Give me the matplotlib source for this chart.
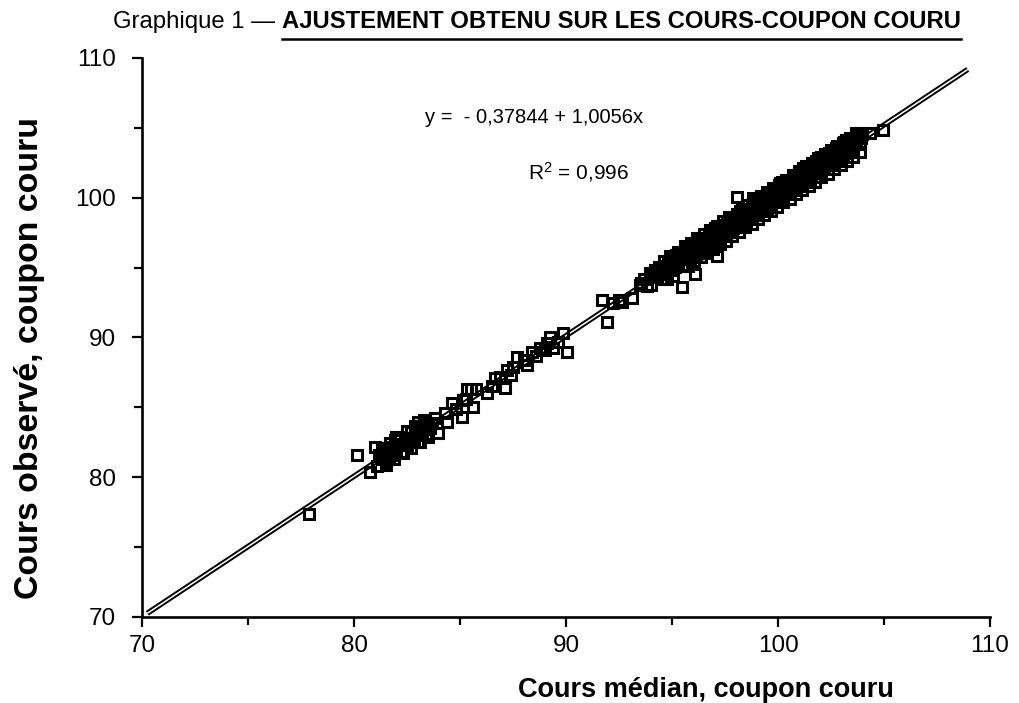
import matplotlib
matplotlib.use("Agg")
import matplotlib.pyplot as plt
from matplotlib.ticker import MultipleLocator
from matplotlib.lines import Line2D

plt.rcParams['font.family'] = ['Liberation Sans', 'DejaVu Sans']
plt.rcParams['mathtext.fontset'] = 'custom'
plt.rcParams['mathtext.rm'] = 'Liberation Sans'
plt.rcParams['mathtext.it'] = 'Liberation Sans'

# ---------------- data ----------------
title_plain = "Graphique 1 — "
title_bold = "AJUSTEMENT OBTENU SUR LES COURS-COUPON COURU"
xlabel = "Cours médian, coupon couru"
ylabel = "Cours observé, coupon couru"
eq_text = "y =  - 0,37844 + 1,0056x"
r2_text = "R$^{2}$ = 0,996"
tick_values = [70, 80, 90, 100, 110]
intercept = -0.37844
slope = 1.0056
fit_range = [70.25, 108.95]

# isolated / sparse observations
sparse_x = [77.88, 80.14, 80.75, 80.99, 81.98, 83.02, 83.82, 83.96, 84.39, 84.62,
            85.09, 85.14, 85.33, 85.52, 85.75, 85.61, 86.27, 86.65, 87.12, 87.22,
            87.50, 87.69, 88.16, 88.40, 88.77, 89.00, 89.25, 89.39, 89.86, 90.05,
            84.30, 84.80, 85.30, 86.50, 86.90, 87.40, 88.00, 88.60, 89.10, 89.60,
            91.70, 91.93, 92.20, 92.50, 92.64, 93.10, 93.50, 93.55, 93.96, 93.70,
            93.80, 95.47, 96.08, 97.12, 98.07, 98.82, 99.76, 104.34, 104.95]
sparse_y = [77.37, 81.59, 80.38, 82.16, 82.88, 83.95, 84.24, 83.17, 83.95, 85.31,
            84.31, 85.53, 86.35, 86.35, 86.35, 85.03, 86.03, 87.10, 86.39, 87.67,
            87.90, 88.60, 88.03, 88.96, 89.25, 89.10, 90.04, 89.25, 90.32, 88.96,
            84.60, 84.90, 85.60, 86.50, 87.20, 87.30, 88.40, 88.70, 89.60, 89.70,
            92.68, 91.11, 92.50, 92.70, 92.54, 92.83, 93.76, 93.90, 94.62, 94.20,
            93.70, 93.61, 94.54, 95.83, 100.05, 99.98, 100.70, 104.63, 104.85]

# cluster around 81-84
clusterA_x = [81.10, 81.20, 81.30, 81.40, 81.50, 81.60, 81.70, 81.80, 81.90, 82.00,
              82.10, 82.20, 82.30, 82.40, 82.50, 82.60, 82.70, 82.80, 82.90, 83.00,
              83.10, 83.20, 83.30, 83.40, 83.50, 83.60, 83.70, 81.35, 81.65, 81.95,
              82.25, 82.55, 82.85, 83.15, 83.45,
              81.30, 81.70, 82.10, 82.50, 82.90, 83.30,
              81.50, 81.90, 82.30, 82.70, 83.10, 83.50]
clusterA_y = [80.78, 81.58, 81.28, 81.98, 81.08, 81.78, 82.18, 81.58, 82.18, 81.88,
              82.73, 81.83, 82.38, 82.83, 82.33, 82.83, 83.23, 82.53, 83.03, 82.53,
              83.43, 83.23, 83.88, 83.08, 83.88, 83.53, 83.88, 81.83, 81.43, 82.63,
              81.83, 82.83, 82.73, 83.68, 83.43,
              82.08, 82.48, 82.88, 83.28, 83.68, 84.08,
              80.90, 81.30, 81.70, 82.10, 82.50, 82.90]

# dense band 94-104
dense_x = [
    94.0, 94.1, 94.2, 94.3, 94.4, 94.5, 94.6, 94.7, 94.8, 94.9,
    94.05, 94.25, 94.45, 94.65, 94.85,
    95.0, 95.1, 95.2, 95.3, 95.4, 95.5, 95.6, 95.7, 95.8, 95.9,
    95.05, 95.15, 95.25, 95.35, 95.45, 95.55, 95.65, 95.75, 95.85, 95.95,
    96.0, 96.1, 96.2, 96.3, 96.4, 96.5, 96.6, 96.7, 96.8, 96.9,
    96.05, 96.15, 96.25, 96.35, 96.45, 96.55, 96.65, 96.75, 96.85, 96.95,
    97.0, 97.1, 97.2, 97.3, 97.4, 97.5, 97.6, 97.7, 97.8, 97.9,
    97.05, 97.15, 97.25, 97.35, 97.45, 97.55, 97.65, 97.75, 97.85, 97.95,
    98.0, 98.1, 98.2, 98.3, 98.4, 98.5, 98.6, 98.7, 98.8, 98.9,
    98.05, 98.15, 98.25, 98.35, 98.45, 98.55, 98.65, 98.75, 98.85, 98.95,
    99.0, 99.1, 99.2, 99.3, 99.4, 99.5, 99.6, 99.7, 99.8, 99.9,
    99.05, 99.15, 99.25, 99.35, 99.45, 99.55, 99.65, 99.75, 99.85, 99.95,
    100.0, 100.1, 100.2, 100.3, 100.4, 100.5, 100.6, 100.7, 100.8, 100.9,
    100.05, 100.15, 100.25, 100.35, 100.45, 100.55, 100.65, 100.75, 100.85, 100.95,
    101.0, 101.1, 101.2, 101.3, 101.4, 101.5, 101.6, 101.7, 101.8, 101.9,
    101.05, 101.15, 101.25, 101.35, 101.45, 101.55, 101.65, 101.75, 101.85, 101.95,
    102.0, 102.1, 102.2, 102.3, 102.4, 102.5, 102.6, 102.7, 102.8, 102.9,
    102.05, 102.15, 102.25, 102.35, 102.45, 102.55, 102.65, 102.75, 102.85, 102.95,
    103.0, 103.1, 103.2, 103.3, 103.4, 103.5, 103.6, 103.7, 103.8, 103.9,
    103.05, 103.15, 103.25, 103.35, 103.45, 103.55, 103.65, 103.75, 103.85, 103.95,
]
dense_y = [
    93.78, 94.52, 94.85, 94.31, 95.02, 94.18, 95.11, 94.55, 95.40, 95.10,
    94.60, 94.70, 94.62, 94.90, 95.28,
    94.85, 95.55, 95.88, 95.30, 96.02, 95.20, 96.10, 95.65, 96.48, 96.20,
    95.70, 95.02, 95.58, 96.00, 95.22, 95.95, 95.60, 96.35, 95.70, 96.58,
    95.88, 96.60, 96.95, 96.35, 97.10, 96.25, 97.12, 96.60, 97.45, 97.15,
    96.75, 96.00, 96.55, 97.00, 96.30, 96.95, 96.70, 97.40, 96.75, 97.55,
    96.90, 97.60, 98.00, 97.40, 98.05, 97.25, 98.20, 97.70, 98.50, 98.15,
    97.80, 97.05, 97.45, 98.00, 97.30, 98.00, 97.65, 98.40, 97.80, 98.55,
    97.92, 98.65, 99.05, 98.40, 99.10, 98.30, 99.20, 98.75, 99.55, 99.20,
    98.85, 98.05, 98.50, 99.05, 98.35, 99.00, 98.70, 99.45, 98.85, 99.60,
    98.95, 99.65, 100.05, 99.45, 100.15, 99.30, 100.25, 99.80, 100.60, 100.25,
    99.85, 99.10, 99.55, 100.05, 99.35, 100.05, 99.75, 100.45, 99.90, 100.60,
    99.95, 100.70, 101.10, 100.45, 101.15, 100.35, 101.25, 100.80, 101.60, 101.25,
    100.90, 100.10, 100.60, 101.10, 100.40, 101.05, 100.80, 101.50, 100.90, 101.65,
    100.95, 101.70, 102.10, 101.50, 102.15, 101.35, 102.30, 101.80, 102.60, 102.30,
    101.90, 101.15, 101.60, 102.10, 101.40, 102.10, 101.80, 102.50, 101.95, 102.65,
    102.00, 102.70, 103.10, 102.50, 103.20, 102.40, 103.30, 102.85, 103.65, 103.30,
    102.95, 102.15, 102.60, 103.15, 102.45, 103.10, 102.85, 103.55, 102.95, 103.70,
    103.00, 103.75, 104.15, 103.50, 104.20, 103.40, 104.30, 103.85, 104.60, 104.25,
    103.95, 103.20, 103.65, 104.15, 103.45, 104.10, 103.85, 104.50, 103.95, 104.55,
]

# extra points filling the core of the dense band
core_x = [96.52, 96.78, 97.03, 97.28, 97.53, 97.78, 98.03, 98.28, 98.53, 98.78,
          99.03, 99.28, 99.53, 99.78, 100.03, 100.28, 100.53, 100.78, 101.03, 101.28,
          101.53, 101.78, 102.03, 102.28, 102.53, 102.78, 103.03, 103.28, 103.53, 103.78,
          96.63, 96.88, 97.13, 97.38, 97.63, 97.88, 98.13, 98.38, 98.63, 98.88,
          99.13, 99.38, 99.63, 99.88, 100.13, 100.38, 100.63, 100.88, 101.13, 101.38,
          101.63, 101.88, 102.13, 102.38, 102.63, 102.88, 103.13, 103.38, 103.63, 103.88]
core_y = [96.40, 97.20, 97.05, 97.75, 97.50, 98.20, 98.00, 98.70, 98.55, 99.20,
          99.00, 99.70, 99.55, 100.20, 100.05, 100.70, 100.55, 101.25, 101.05, 101.75,
          101.60, 102.25, 102.10, 102.75, 102.60, 103.25, 103.10, 103.75, 103.60, 104.25,
          97.05, 96.85, 97.55, 97.35, 98.05, 97.85, 98.55, 98.35, 99.05, 98.85,
          99.55, 99.35, 100.05, 99.85, 100.55, 100.35, 101.05, 100.85, 101.55, 101.35,
          102.05, 101.85, 102.55, 102.35, 103.05, 102.85, 103.55, 103.35, 104.05, 103.85]

# observations on the outer edges of the dense band
edge_x = [94.60, 94.90, 95.30, 95.60, 95.90, 96.20, 96.50, 96.80, 97.10, 97.40,
          97.70, 98.30, 98.60, 98.90, 99.20, 99.50, 99.80, 100.10, 100.40, 100.70,
          101.00, 101.30, 101.60, 101.90, 102.20, 102.50, 102.80, 103.10, 103.40, 103.70,
          94.75, 95.05, 95.75, 96.05, 96.35, 96.65, 96.95, 97.25, 97.55, 97.85,
          98.15, 98.45, 98.75, 99.05, 99.35, 99.65, 99.95, 100.25, 100.55, 100.85,
          101.15, 101.45, 101.75, 102.05, 102.35, 102.65, 102.95, 103.25, 103.55, 103.85]
edge_y = [95.48, 95.83, 96.15, 96.54, 96.78, 97.14, 97.40, 97.72, 98.00, 98.33,
          98.60, 99.22, 99.48, 99.83, 100.10, 100.42, 100.70, 101.03, 101.30, 101.64,
          101.90, 102.24, 102.50, 102.84, 103.10, 103.44, 103.70, 104.02, 104.30, 104.60,
          94.18, 94.42, 95.12, 95.47, 95.73, 96.08, 96.33, 96.66, 96.93, 97.27,
          97.53, 97.88, 98.12, 98.47, 98.73, 99.07, 99.33, 99.67, 99.92, 100.27,
          100.52, 100.87, 101.12, 101.47, 101.72, 102.07, 102.33, 102.66, 102.93, 103.27]

# ---------------- figure ----------------
W, H = 1019, 703
fig = plt.figure(figsize=(W / 100, H / 100), dpi=100)
ax = fig.add_axes([142 / W, 1 - 617 / H, 848 / W, 559 / H])

# regression line (double stroke look)
fx = fit_range
fy = [intercept + slope * v for v in fx]
ax.plot(fx, fy, color='black', lw=3.9, solid_capstyle='butt', zorder=2)
ax.plot(fx, fy, color='white', lw=1.1, solid_capstyle='butt', zorder=2.1)

mk = dict(marker='s', ms=7.8, mew=2.2, mfc='none', mec='black', ls='none', zorder=3)
ax.plot(sparse_x, sparse_y, **mk)
ax.plot(clusterA_x, clusterA_y, **mk)
ax.plot(dense_x, dense_y, **mk)
ax.plot(core_x, core_y, **mk)
ax.plot(edge_x, edge_y, **mk)

ax.set_xlim(70, 110)
ax.set_ylim(70, 110)
ax.set_xticks(tick_values)
ax.set_yticks(tick_values)
ax.xaxis.set_minor_locator(MultipleLocator(5))
ax.yaxis.set_minor_locator(MultipleLocator(5))
for s in ['top', 'right']:
    ax.spines[s].set_visible(False)
for s in ['left', 'bottom']:
    ax.spines[s].set_linewidth(1.9)
    ax.spines[s].set_color('black')
ax.tick_params(axis='both', which='major', direction='out', length=7, width=1.6,
               labelsize=17.5, colors='black')
ax.tick_params(axis='both', which='minor', direction='out', length=6, width=1.6)
ax.tick_params(axis='y', which='major', pad=12)
ax.tick_params(axis='x', which='major', pad=6)

ax.text(0.334, 0.893, eq_text, transform=ax.transAxes, fontsize=14.5,
        ha='left', va='center')
ax.text(0.455, 0.796, r2_text, transform=ax.transAxes, fontsize=15,
        ha='left', va='center')

fig.text(706 / W, 1 - 690 / H, xlabel, fontsize=19.5, fontweight='bold',
         ha='center', va='center')
fig.text(30 / W, 1 - 358 / H, ylabel, fontsize=24.4, fontweight='bold',
         ha='center', va='center', rotation=90)

# title: plain part + bold underlined part
t1 = fig.text(113 / W, 1 - 22 / H, title_plain, fontsize=17.2, ha='left', va='center')
fig.canvas.draw()
r = fig.canvas.get_renderer()
bb1 = t1.get_window_extent(renderer=r)
t2 = fig.text(bb1.x1 / W, 1 - 22 / H, title_bold, fontsize=17.2, fontweight='bold',
              ha='left', va='center')
fig.canvas.draw()
bb2 = t2.get_window_extent(renderer=r)
uy = (H - 39) / H
fig.add_artist(Line2D([bb2.x0 / W, bb2.x1 / W], [uy, uy], color='black', lw=1.8,
                      transform=fig.transFigure))

fig.savefig('out.png', dpi=100)
